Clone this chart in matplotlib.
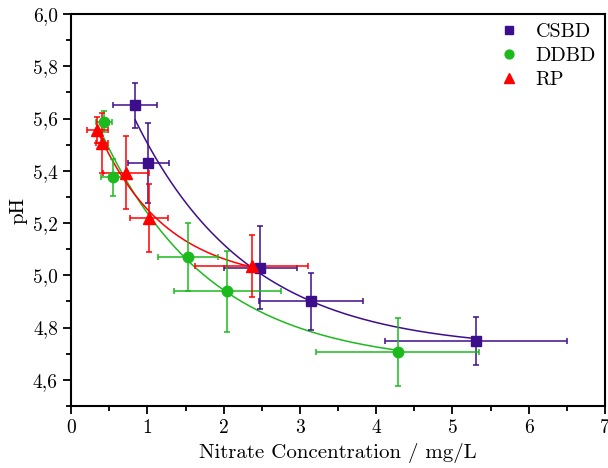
import matplotlib.pyplot as plt
import numpy as np
from matplotlib.ticker import FuncFormatter, MultipleLocator

plt.rcParams['font.family'] = 'serif'
plt.rcParams['font.serif'] = ['cmr10']
plt.rcParams['mathtext.fontset'] = 'cm'
plt.rcParams['axes.formatter.use_mathtext'] = True

# CSBD
csbd_x = [0.84, 1.01, 2.48, 3.15, 5.31]
csbd_y = [5.65, 5.43, 5.03, 4.90, 4.75]
csbd_xerr = [0.29, 0.27, 0.48, 0.68, 1.19]
csbd_yerr = [0.087, 0.153, 0.16, 0.11, 0.092]

# DDBD
ddbd_x = [0.43, 0.555, 1.53, 2.05, 4.28]
ddbd_y = [5.588, 5.375, 5.07, 4.94, 4.708]
ddbd_xerr = [0.11, 0.16, 0.39, 0.70, 1.07]
ddbd_yerr = [0.04, 0.07, 0.13, 0.155, 0.13]

# RP
rp_x = [0.345, 0.40, 0.715, 1.02, 2.37]
rp_y = [5.556, 5.505, 5.393, 5.218, 5.036]
rp_xerr = [0.14, 0.08, 0.30, 0.25, 0.74]
rp_yerr = [0.05, 0.115, 0.14, 0.13, 0.12]


def expfit(x, y):
    # y = y0 + A*exp(-x/t), grid search over t, linear least squares for y0, A
    x = np.array(x)
    y = np.array(y)
    best = None
    for t in np.linspace(0.2, 5, 500):
        M = np.column_stack([np.ones_like(x), np.exp(-x / t)])
        c, res, _, _ = np.linalg.lstsq(M, y, rcond=None)
        err = np.sum((M @ c - y) ** 2)
        if best is None or err < best[0]:
            best = (err, c[0], c[1], t)
    return best[1:]


fig = plt.figure(figsize=(6.08, 4.68), dpi=100)
ax = fig.add_axes([0.117, 0.1325, 0.878, 0.8375])

series = [
    ('CSBD', csbd_x, csbd_y, csbd_xerr, csbd_yerr, '#3D0E8C', 's', 7),
    ('DDBD', ddbd_x, ddbd_y, ddbd_xerr, ddbd_yerr, '#1DBA1D', 'o', 7.5),
    ('RP', rp_x, rp_y, rp_xerr, rp_yerr, '#FF0000', '^', 8),
]

for name, x, y, xe, ye, col, mk, ms in series:
    y0, A, t = expfit(x, y)
    xx = np.linspace(min(x), max(x), 200)
    ax.plot(xx, y0 + A * np.exp(-xx / t), color=col, lw=1.1, zorder=2)
    ax.errorbar(x, y, xerr=xe, yerr=ye, fmt='none', ecolor=col, elinewidth=1.1,
                capsize=2.5, capthick=1.1, zorder=3)
    ax.plot(x, y, linestyle='none', marker=mk, color=col, markersize=ms,
            label=name, zorder=4)

ax.set_xlim(0, 7)
ax.set_ylim(4.5, 6.0)
ax.xaxis.set_major_locator(MultipleLocator(1))
ax.xaxis.set_minor_locator(MultipleLocator(0.5))
ax.yaxis.set_major_locator(MultipleLocator(0.2))
ax.yaxis.set_minor_locator(MultipleLocator(0.1))
ax.xaxis.set_major_formatter(FuncFormatter(lambda v, p: '%d' % round(v)))
ax.yaxis.set_major_formatter(FuncFormatter(lambda v, p: ('%.1f' % v).replace('.', ',')))

ax.tick_params(which='major', direction='out', length=6, width=1.3, labelsize=14)
ax.tick_params(which='minor', direction='out', length=3.5, width=1.3)
ax.tick_params(top=False, right=False)
for s in ax.spines.values():
    s.set_linewidth(1.5)

ax.set_xlabel('Nitrate Concentration / mg/L', fontsize=15)
ax.set_ylabel('pH', fontsize=15)

ax.legend(loc='upper right', frameon=False, fontsize=14.5, handletextpad=0.8,
          handlelength=1.0, markerscale=0.85, labelspacing=0.3,
          borderaxespad=0.25, borderpad=0.2)

fig.savefig('out.png', dpi=100)
